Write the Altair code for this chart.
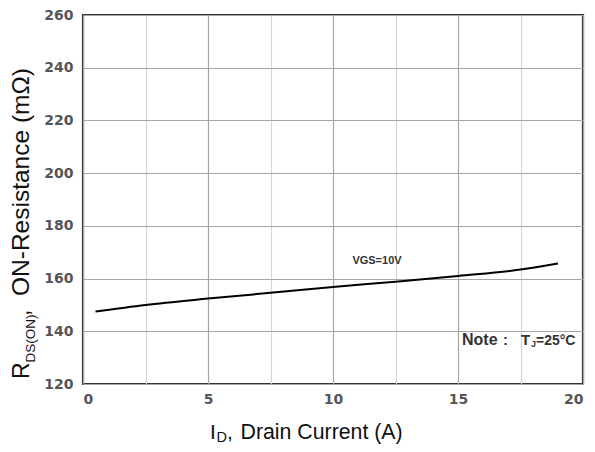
import altair as alt
import pandas as pd

# Curve data (I_D in A, R_DS(on) in mOhm)
id_current = [0.5, 2.5, 5.0, 7.5, 10.0, 12.5, 15.0, 17.5, 19.0]
rds_on = [147.5, 150.0, 152.4, 154.6, 156.8, 158.8, 161.0, 163.4, 165.7]

x_ticks = [0, 2.5, 5, 7.5, 10, 12.5, 15, 17.5, 20]
y_ticks = [120, 130, 140, 150, 160, 170, 180, 190, 200, 210, 220, 230, 240, 250, 260]

vgs_label = ["VGS=10V"]
vgs_x = [11.76]
vgs_y = [166.6]

note_x = [15.16]
note_y = [134.75]

FONT = "Liberation Sans"
TICK_FONT = "DejaVu Sans"

df = pd.DataFrame({"I": id_current, "R": rds_on})

xs = alt.Scale(domain=[0, 20], nice=False, zero=False)
ys = alt.Scale(domain=[120, 260], nice=False, zero=False)

x_axis = alt.Axis(
    values=x_ticks, title=None, ticks=False, domain=False,
    labelExpr="datum.value % 5 === 0 ? datum.label : ''",
    labelFont=TICK_FONT, labelFontSize=14, labelFontWeight="bold", labelColor="#555555",
    labelPadding=8,
    gridColor={"condition": {"test": "datum.value % 5 === 0", "value": "#a6a6a6"}, "value": "#d6d6d6"},
    gridWidth=1.2,
)
y_axis = alt.Axis(
    values=y_ticks, title=None, ticks=False, domain=False,
    labelExpr="datum.value % 20 === 0 ? datum.label : ''",
    labelFont=TICK_FONT, labelFontSize=14, labelFontWeight="bold", labelColor="#555555",
    labelPadding=10,
    gridColor={"condition": {"test": "datum.value % 20 === 0", "value": "#a6a6a6"}, "value": "#d6d6d6"},
    gridWidth=1.2,
)

line = alt.Chart(df).mark_line(color="black", strokeWidth=2, interpolate="monotone").encode(
    x=alt.X("I:Q", scale=xs, axis=x_axis),
    y=alt.Y("R:Q", scale=ys, axis=y_axis),
)

vgs = alt.Chart(pd.DataFrame({"t": vgs_label, "x": vgs_x, "y": vgs_y})).mark_text(
    font=FONT, fontSize=11, fontWeight="bold", color="#333333", align="center", baseline="middle"
).encode(x=alt.X("x:Q", scale=xs), y=alt.Y("y:Q", scale=ys), text="t:N")

note_df = pd.DataFrame({"x": note_x, "y": note_y})


def note_piece(text, dx, size, dy=0):
    return alt.Chart(note_df).mark_text(
        text=text, font=FONT, fontSize=size, fontWeight="bold", color="#333333",
        align="left", baseline="alphabetic", dx=dx, dy=dy
    ).encode(x=alt.X("x:Q", scale=xs), y=alt.Y("y:Q", scale=ys))


notes = [
    note_piece("Note", 0, 16),
    note_piece(":", 41, 15),
    note_piece("T", 59, 15),
    note_piece("J", 69, 9, 2),
    note_piece("=25°C", 74, 14),
]


def label(text, x, y, size, angle=0):
    return alt.Chart(alt.Data(values=[{}])).mark_text(
        text=text, font=FONT, fontSize=size, color="#111111",
        align="left", baseline="alphabetic", angle=angle
    ).encode(x=alt.value(x), y=alt.value(y))


# axis titles with subscripts
x_title = [
    label("I", 127, 424, 21),
    label("D", 133.5, 427, 14.5),
    label(",", 144, 424, 21),
    label("Drain Current (A)", 157.5, 424, 21.3),
]
y_title = [
    label("R", -54, 364, 23, 270),
    label("DS(ON)", -48.5, 347.5, 13.5, 270),
    label(",", -54, 301, 23, 270),
    label("ON-Resistance (mΩ)", -54, 281, 24.5, 270),
]

chart = alt.layer(line, vgs, *notes, *x_title, *y_title).properties(
    width=500, height=369,
    autosize=alt.AutoSizeParams(type="none"),
    padding={"left": 75, "top": 7, "right": 4, "bottom": 60},
    background="white",
).configure_view(stroke="#333333", strokeWidth=2.2)

chart.save("out.html", embed_options={"renderer": "svg", "actions": False})
